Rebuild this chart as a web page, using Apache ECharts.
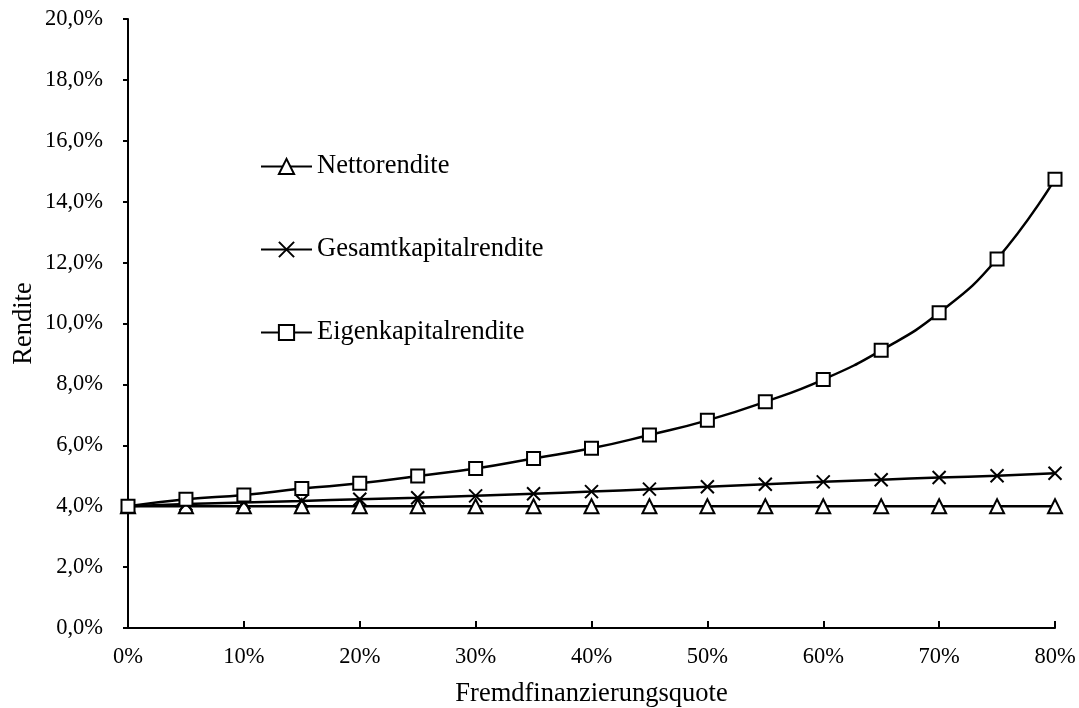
<!DOCTYPE html>
<html>
<head>
<meta charset="utf-8">
<script src="https://cdn.jsdelivr.net/npm/echarts@6/dist/echarts.min.js"></script>
<style>html,body{margin:0;padding:0;background:#fff}#c{width:1079px;height:708px}</style>
</head>
<body>
<div id="c"></div>
<script>
const quote = [0,5,10,15,20,25,30,35,40,45,50,55,60,65,70,75,80];
const netto = [4.0,4.0,4.0,4.0,4.0,4.0,4.0,4.0,4.0,4.0,4.0,4.0,4.0,4.0,4.0,4.0,4.0];
const gesamt = [4.0,4.07,4.12,4.17,4.23,4.28,4.34,4.41,4.48,4.56,4.64,4.72,4.80,4.87,4.94,5.0,5.08];
const eigen = [4.0,4.23,4.37,4.58,4.75,4.99,5.24,5.57,5.90,6.34,6.82,7.43,8.16,9.12,10.35,12.12,14.74];
const names = ['Nettorendite','Gesamtkapitalrendite','Eigenkapitalrendite'];

const FONT = '"Liberation Serif","Times New Roman",serif';
const pairs = arr => quote.map((q,i)=>[q,arr[i]]);
const base = {
  type:'line', smooth:0.5, symbolSize:14,
  lineStyle:{color:'#000',width:2.5},
  itemStyle:{color:'#fff',borderColor:'#000',borderWidth:2},
  emphasis:{disabled:true}, animation:false
};
const chart = echarts.init(document.getElementById('c'));
chart.setOption({
  animation:false,
  backgroundColor:'#fff',
  grid:{left:128,right:24,top:19,bottom:80,outerBoundsMode:'none',containLabel:false},
  legend:{
    orient:'vertical', left:260, top:153, padding:0, itemGap:56,
    itemWidth:51, itemHeight:19,
    textStyle:{fontFamily:FONT,fontSize:26.5,color:'#000'},
    data:names
  },
  xAxis:{
    type:'value', min:0, max:80, interval:10,
    name:'Fremdfinanzierungsquote', nameLocation:'middle', nameGap:53,
    nameTextStyle:{fontFamily:FONT,fontSize:26.5,color:'#000'},
    axisLine:{lineStyle:{color:'#000',width:2}},
    axisTick:{inside:true,length:7,lineStyle:{color:'#000',width:2}},
    axisLabel:{fontFamily:FONT,fontSize:22.5,color:'#000',margin:18,formatter:'{value}%'},
    splitLine:{show:false}
  },
  yAxis:{
    type:'value', min:0, max:20, interval:2,
    name:'Rendite', nameLocation:'middle', nameGap:90, nameMoveOverlap:false,
    nameTextStyle:{fontFamily:FONT,fontSize:26.5,color:'#000'},
    axisLine:{show:true,lineStyle:{color:'#000',width:2}},
    axisTick:{show:true,length:5,lineStyle:{color:'#000',width:2}},
    axisLabel:{fontFamily:FONT,fontSize:22.5,color:'#000',margin:25,
      formatter:v=>v.toFixed(1).replace('.',',')+'%'},
    splitLine:{show:false}
  },
  series:[
    Object.assign({},base,{name:names[0],symbol:'triangle',data:pairs(netto)}),
    Object.assign({},base,{name:names[1],symbol:'path://M0,0L10,10M10,0L0,10',symbolSize:13,
      itemStyle:{color:'#000',borderColor:'#000',borderWidth:2},data:pairs(gesamt)}),
    Object.assign({},base,{name:names[2],symbol:'rect',symbolSize:13,data:pairs(eigen)})
  ]
});
</script>
</body>
</html>
